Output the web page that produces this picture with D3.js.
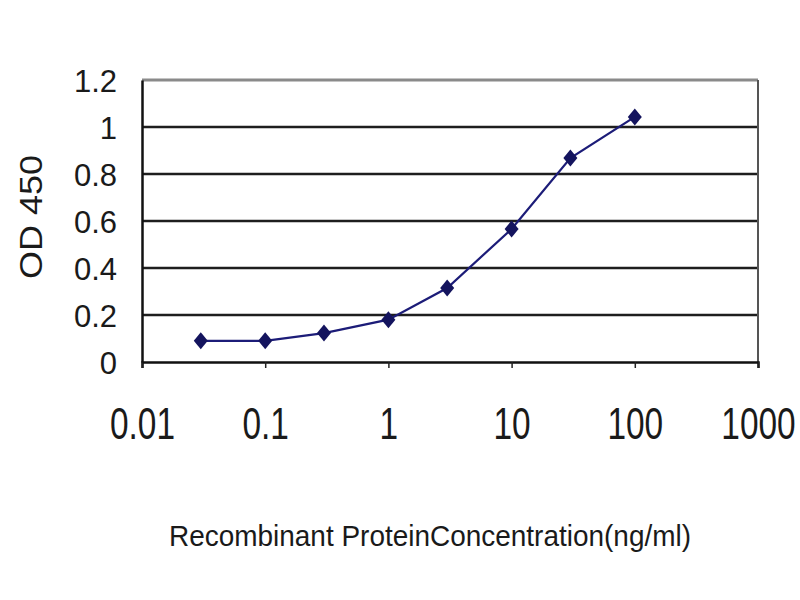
<!DOCTYPE html>
<html>
<head>
<meta charset="utf-8">
<script src="https://cdn.jsdelivr.net/npm/d3@7"></script>
<style>
body { margin: 0; background: #fff; }
text { font-family: Arial, "Liberation Sans", sans-serif; fill: #1a1a1a; }
</style>
</head>
<body>
<div id="chart"></div>
<script>
// Data
const concentrations = [0.03, 0.1, 0.3, 1, 3, 10, 30, 100];
const od450 = [0.09, 0.09, 0.123, 0.18, 0.315, 0.566, 0.868, 1.043];

const xTicks = [0.01, 0.1, 1, 10, 100, 1000];
const xTickLabels = ["0.01", "0.1", "1", "10", "100", "1000"];
const yTicks = [0, 0.2, 0.4, 0.6, 0.8, 1, 1.2];
const yTickLabels = ["0", "0.2", "0.4", "0.6", "0.8", "1", "1.2"];

const xTitle = "Recombinant ProteinConcentration(ng/ml)";
const yTitle = "OD 450";

const points = concentrations.map((c, i) => ({x: c, y: od450[i]}));

// Set the dimensions and margins of the graph
const width = 800, height = 600;
const margin = {top: 80, right: 42, bottom: 238, left: 142},
    plot_width = width - margin.left - margin.right,
    plot_height = height - margin.top - margin.bottom;

const svg = d3.select("#chart")
    .append("svg")
    .attr("width", width)
    .attr("height", height);

const g = svg.append("g")
    .attr("transform", `translate(${margin.left},${margin.top})`);

const x = d3.scaleLog()
    .domain([0.01, 1000])
    .range([0, plot_width]);

const y = d3.scaleLinear()
    .domain([0, 1.2])
    .range([plot_height, 0]);

// Gridlines
g.append("g")
    .selectAll("line")
    .data(yTicks.filter(d => d > 0 && d < 1.2))
    .enter()
    .append("line")
    .attr("x1", 0)
    .attr("x2", plot_width)
    .attr("y1", d => y(d))
    .attr("y2", d => y(d))
    .style("stroke", "#1e1e1e")
    .style("stroke-width", 2.5);

// Top and right border
g.append("line")
    .attr("x1", 0).attr("x2", plot_width)
    .attr("y1", y(1.2)).attr("y2", y(1.2))
    .style("stroke", "#8a8a8a")
    .style("stroke-width", 3);
g.append("line")
    .attr("x1", plot_width).attr("x2", plot_width)
    .attr("y1", y(1.2)).attr("y2", y(0))
    .style("stroke", "#555")
    .style("stroke-width", 2);

// X axis
const xAxis = g.append("g")
    .attr("transform", `translate(0,${plot_height})`)
    .call(d3.axisBottom(x)
        .tickValues(xTicks)
        .tickFormat((d, i) => xTickLabels[i])
        .tickSize(6)
        .tickPadding(44));
xAxis.select(".domain").style("stroke", "#111").style("stroke-width", 2.5);
xAxis.selectAll(".tick line").style("stroke", "#222").style("stroke-width", 1.5);
xAxis.selectAll(".tick text")
    .attr("y", 0)
    .attr("dy", 0)
    .style("font-size", "44px")
    .attr("transform", "translate(0,77) scale(0.76,1)");

// Y axis
const yAxis = g.append("g")
    .call(d3.axisLeft(y)
        .tickValues(yTicks)
        .tickFormat((d, i) => yTickLabels[i])
        .tickSize(0)
        .tickPadding(25));
yAxis.select(".domain").style("stroke", "#111").style("stroke-width", 2.5);
yAxis.selectAll(".tick text")
    .style("font-size", "31px")
    .attr("dy", "0.36em");

// Axis titles
svg.append("text")
    .attr("x", 430)
    .attr("y", 546)
    .attr("text-anchor", "middle")
    .attr("textLength", 522)
    .attr("lengthAdjust", "spacingAndGlyphs")
    .style("font-size", "29px")
    .text(xTitle);

svg.append("text")
    .attr("transform", "translate(42,217) rotate(-90)")
    .attr("text-anchor", "middle")
    .attr("textLength", 124)
    .attr("lengthAdjust", "spacingAndGlyphs")
    .style("font-size", "31px")
    .text(yTitle);

// Line and markers
const line = d3.line()
    .x(d => x(d.x))
    .y(d => y(d.y));

g.append("path")
    .datum(points)
    .attr("d", line)
    .attr("fill", "none")
    .style("stroke", "#1c1c78")
    .style("stroke-width", 2.2);

g.append("g")
    .selectAll("path")
    .data(points)
    .enter()
    .append("path")
    .attr("transform", d => `translate(${x(d.x)},${y(d.y)})`)
    .attr("d", "M0,-8.5L7,0L0,8.5L-7,0Z")
    .attr("fill", "#14145e");
</script>
</body>
</html>
